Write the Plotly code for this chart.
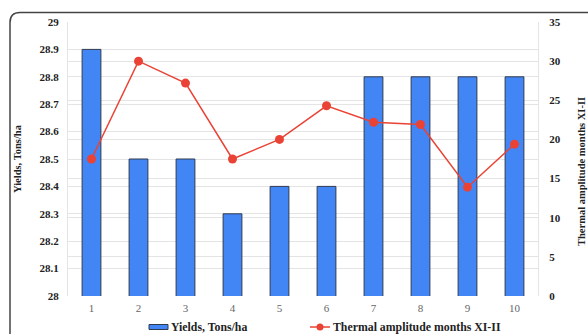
import plotly.graph_objects as go

# Years / sites along the x axis
categories = ["1", "2", "3", "4", "5", "6", "7", "8", "9", "10"]
# Yields, Tons/ha (left axis)
yields = [28.9, 28.5, 28.5, 28.3, 28.4, 28.4, 28.8, 28.8, 28.8, 28.8]
# Thermal amplitude for months XI-II (right axis)
thermal = [17.5, 30.0, 27.2, 17.5, 20.0, 24.3, 22.2, 21.9, 13.9, 19.4]

left_ticks = [28.0, 28.1, 28.2, 28.3, 28.4, 28.5, 28.6, 28.7, 28.8, 28.9, 29.0]
left_tick_text = ["28", "28.1", "28.2", "28.3", "28.4", "28.5", "28.6", "28.7", "28.8", "28.9", "29"]
right_ticks = [0, 5, 10, 15, 20, 25, 30, 35]

SERIF = "Liberation Serif"
BAR_BLUE = "#4285F4"
LINE_RED = "#EA4335"
GRID = "#e4e4e4"

# plot-area geometry in pixels, used to convert pixel positions to paper units
L, R, T, B = 68, 538, 22, 296


def px(x):
    return (x - L) / (R - L)


def py(y):
    return (B - y) / (B - T)


fig = go.Figure()

fig.add_trace(go.Bar(
    x=categories, y=yields, name="Yields, Tons/ha",
    marker=dict(color=BAR_BLUE, line=dict(color="#2f3b4f", width=1)),
    width=0.4, yaxis="y",
))

fig.add_trace(go.Scatter(
    x=categories, y=thermal, name="Thermal amplitude months XI-II",
    mode="lines+markers",
    line=dict(color=LINE_RED, width=1.5),
    marker=dict(color=LINE_RED, size=9),
    yaxis="y2",
))

tick_font = dict(family=SERIF, size=11, color="#222", weight="bold")
label_font = dict(family=SERIF, size=11.8, color="#222", weight="bold")

fig.update_layout(
    width=588, height=334,
    margin=dict(l=L, r=588 - R, t=T, b=334 - B, autoexpand=False),
    paper_bgcolor="white", plot_bgcolor="white",
    font=dict(family=SERIF),
    showlegend=False,
    xaxis=dict(
        type="category", range=[-0.5, 9.5], automargin=False,
        showgrid=False, zeroline=False,
        tickfont=dict(family=SERIF, size=11, color="#666"),
        ticks="", showline=False, ticklabelstandoff=4,
    ),
    yaxis=dict(
        range=[28, 29], tickvals=left_ticks, ticktext=left_tick_text,
        automargin=False,
        showgrid=True, gridcolor=GRID, gridwidth=1, zeroline=False,
        tickfont=tick_font, ticks="", ticklabelstandoff=6,
        showline=True, linecolor=GRID,
    ),
    yaxis2=dict(
        range=[0, 35], tickvals=right_ticks, overlaying="y", side="right",
        automargin=False,
        showgrid=True, gridcolor=GRID, gridwidth=1, zeroline=False,
        tickfont=tick_font, ticks="", ticklabelstandoff=8,
        showline=True, linecolor=GRID,
    ),
    annotations=[
        dict(text="Yields, Tons/ha", xref="paper", yref="paper",
             x=px(17), y=0.5, xanchor="center", yanchor="middle",
             textangle=-90, showarrow=False,
             font=dict(family=SERIF, size=10.5, color="#222", weight="bold")),
        dict(text="Thermal amplitude months XI-II", xref="paper", yref="paper",
             x=px(581), y=py(172), xanchor="center", yanchor="middle",
             textangle=-90, showarrow=False,
             font=dict(family=SERIF, size=10.5, color="#222", weight="bold")),
        # legend labels
        dict(text="Yields, Tons/ha", xref="paper", yref="paper",
             x=px(169), y=py(327), xanchor="left", yanchor="middle",
             showarrow=False, font=label_font),
        dict(text="Thermal amplitude months XI-II", xref="paper", yref="paper",
             x=px(331), y=py(327), xanchor="left", yanchor="middle",
             showarrow=False, font=label_font),
    ],
    shapes=[
        # rounded outer frame (top-left corner visible)
        dict(type="path", xref="paper", yref="paper",
             path=(f"M {px(10)},{py(345)} L {px(10)},{py(22.5)} "
                   f"Q {px(10)},{py(12.5)} {px(20)},{py(12.5)} L {px(600)},{py(12.5)}"),
             line=dict(color="#444", width=1.5)),
        # legend key: bar swatch
        dict(type="rect", xref="paper", yref="paper",
             x0=px(149), x1=px(168), y0=py(329.5), y1=py(324.5),
             fillcolor=BAR_BLUE, line=dict(color="#2f3b4f", width=1)),
        # legend key: line with marker
        dict(type="line", xref="paper", yref="paper",
             x0=px(310), x1=px(330), y0=py(327), y1=py(327),
             line=dict(color=LINE_RED, width=1.5)),
        dict(type="circle", xref="paper", yref="paper",
             x0=px(316.5), x1=px(323.5), y0=py(330.5), y1=py(323.5),
             fillcolor=LINE_RED, line=dict(color=LINE_RED, width=0)),
    ],
)

fig.write_html("out.html")
